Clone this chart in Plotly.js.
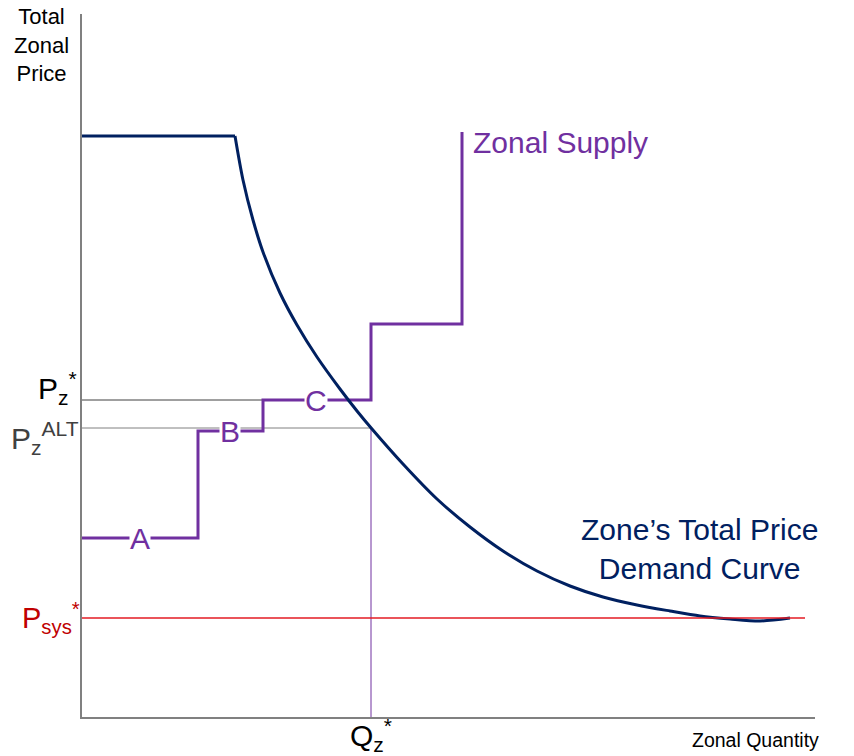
<!DOCTYPE html>
<html>
<head>
<meta charset="utf-8">
<script src="https://cdn.plot.ly/plotly-3.0.1.min.js"></script>
<style>html,body{margin:0;padding:0;background:#fff}</style>
</head>
<body>
<div id="chart" style="width:854px;height:756px"></div>
<script>
// Demand curve (flat cap, then convex decline)
const demandFlatX = [0, 153];
const demandFlatY = [581, 581];
const demandCurveX = [153, 161, 171, 181, 198, 215, 235, 258, 275, 290, 321, 355, 388, 421, 455, 488, 521, 555, 588, 618, 648, 678, 708];
const demandCurveY = [581, 537, 497, 465, 424, 392, 360, 328, 306, 288, 253, 218, 190, 166, 146, 131, 120, 112, 106, 101, 98, 96, 99];
// Zonal supply step curve
const supplyX = [0, 116, 116, 181, 181, 289, 289, 380, 380];
const supplyY = [179, 179, 286, 286, 317, 317, 393, 393, 585];
// Reference levels
const qStar = 289;
const pStar = 317;
const pAlt = 289;
const pSys = 99;
const pSysEnd = 723;
// Step labels
const stepLabels = ['A', 'B', 'C'];
const stepLabelX = [58, 148, 234];
const stepLabelY = [179, 286, 317];

const FONT = 'Liberation Sans, Arial, sans-serif';
const NAVY = '#002060';
const PURPLE = '#7030A0';

const traces = [
  {x: [0, qStar], y: [pStar, pStar], mode: 'lines', line: {color: '#404040', width: 1}},
  {x: [0, qStar], y: [pAlt, pAlt], mode: 'lines', line: {color: '#808080', width: 1}},
  {x: [qStar, qStar], y: [0, pAlt], mode: 'lines', line: {color: PURPLE, width: 1}},
  {x: supplyX, y: supplyY, mode: 'lines', line: {color: PURPLE, width: 3}},
  {x: demandFlatX, y: demandFlatY, mode: 'lines', line: {color: NAVY, width: 3}},
  {x: demandCurveX, y: demandCurveY, mode: 'lines', line: {color: NAVY, width: 3, shape: 'spline', smoothing: 0.8}},
  {x: [0, pSysEnd], y: [pSys, pSys], mode: 'lines', line: {color: '#E31B23', width: 1.4}}
];

const W = 733, H = 703;
const px = v => (v - 82) / W;
const py = v => (717 - v) / H;

const annotations = stepLabels.map((t, i) => ({
  x: stepLabelX[i], y: stepLabelY[i], xref: 'x', yref: 'y', text: t, showarrow: false,
  bgcolor: '#ffffff', borderpad: 0, font: {family: FONT, size: 30, color: PURPLE}
}));

annotations.push(
  {x: px(41), y: py(45), xref: 'paper', yref: 'paper', text: 'Total<br>Zonal<br>Price', showarrow: false,
   xanchor: 'center', yanchor: 'middle', font: {family: FONT, size: 22, color: '#000'}},
  {x: px(79), y: py(388), xref: 'paper', yref: 'paper', text: 'P<sub>z</sub><sup>*</sup>', showarrow: false,
   xanchor: 'right', yanchor: 'middle', font: {family: FONT, size: 30, color: '#000'}},
  {x: px(81), y: py(438), xref: 'paper', yref: 'paper', text: 'P<sub>z</sub><sup>ALT</sup>', showarrow: false,
   xanchor: 'right', yanchor: 'middle', font: {family: FONT, size: 30, color: '#404040'}},
  {x: px(82), y: py(618), xref: 'paper', yref: 'paper', text: 'P<sub>sys</sub><sup>*</sup>', showarrow: false,
   xanchor: 'right', yanchor: 'middle', font: {family: FONT, size: 29, color: '#C00000'}},
  {x: px(371), y: py(735), xref: 'paper', yref: 'paper', text: 'Q<sub>z</sub><sup>*</sup>', showarrow: false,
   xanchor: 'center', yanchor: 'middle', font: {family: FONT, size: 30, color: '#000'}},
  {x: px(821), y: py(740), xref: 'paper', yref: 'paper', text: 'Zonal Quantity', showarrow: false,
   xanchor: 'right', yanchor: 'middle', font: {family: FONT, size: 19.5, color: '#000'}},
  {x: 389, y: 575, xref: 'x', yref: 'y', text: 'Zonal Supply', showarrow: false,
   xanchor: 'left', yanchor: 'middle', font: {family: FONT, size: 30, color: PURPLE}},
  {x: 617, y: 168, xref: 'x', yref: 'y', text: 'Zone’s Total Price<br>Demand Curve', showarrow: false,
   xanchor: 'center', yanchor: 'middle', font: {family: FONT, size: 30, color: NAVY}}
);

const layout = {
  width: 854, height: 756,
  margin: {l: 82, r: 39, t: 14, b: 39, pad: 0},
  paper_bgcolor: '#fff', plot_bgcolor: '#fff',
  showlegend: false,
  xaxis: {range: [0, W], showgrid: false, zeroline: false, showticklabels: false, ticks: '',
          showline: true, linecolor: '#808080', linewidth: 2, fixedrange: true},
  yaxis: {range: [0, H], showgrid: false, zeroline: false, showticklabels: false, ticks: '',
          showline: true, linecolor: '#808080', linewidth: 2, fixedrange: true},
  annotations: annotations
};

Plotly.newPlot('chart', traces, layout, {staticPlot: true, displayModeBar: false});
</script>
</body>
</html>
